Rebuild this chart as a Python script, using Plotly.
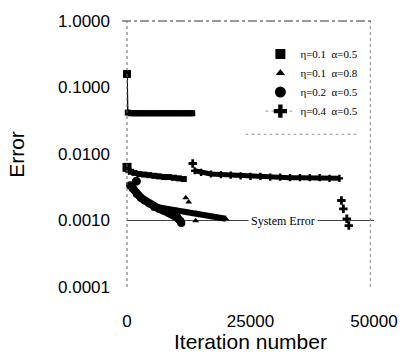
import plotly.graph_objects as go

# ---- data ----
sq_a_x = [0, 150, 800, 1300, 1800, 2300, 2800, 3300, 3800, 4300, 4800, 5300, 5800, 6300, 6800,
          7300, 7800, 8300, 8800, 9300, 9800, 10300, 10800, 11300, 11800, 12300, 12800, 13200]
sq_a_y = [0.16, 0.042, 0.041, 0.041, 0.041, 0.041, 0.041, 0.041, 0.041, 0.041, 0.041, 0.041, 0.041, 0.041, 0.041,
          0.041, 0.041, 0.041, 0.041, 0.041, 0.041, 0.041, 0.041, 0.041, 0.041, 0.041, 0.041, 0.041]

sq_b_x = [0, 300, 800, 1500, 2500, 3500, 4500, 5500, 6500, 7500, 8500, 9500, 10500, 11500]
sq_b_y = [0.0063, 0.0057, 0.0054, 0.0052, 0.0050, 0.0049, 0.0048, 0.0047, 0.0046, 0.0045,
          0.0045, 0.0044, 0.0043, 0.0042]

ci_x = [1900, 600, 1200, 2000, 2800, 3600, 4500, 5500, 6500, 7500, 8500, 9500, 10200, 10800, 11000]
ci_y = [0.0039, 0.0034, 0.0030, 0.0025, 0.0022, 0.0020, 0.0018, 0.0016, 0.0015, 0.0014, 0.0013,
        0.0012, 0.0011, 0.00098, 0.00092]

tr_x = [4500, 6000, 8000, 10000, 12000, 14000, 16000, 18000, 20000]
tr_y = [0.0018, 0.0016, 0.0015, 0.00142, 0.00135, 0.00128, 0.0012, 0.00113, 0.00106]
tr_extra_x = [11900, 12500, 13900]
tr_extra_y = [0.0022, 0.0019, 0.00099]

pl_x = [13700, 15000, 17000, 19000, 21000, 23000, 25000, 27000, 29000, 31000, 33000,
        35000, 37000, 39000, 41000, 43000]
pl_y = [0.0056, 0.0053, 0.0050, 0.0049, 0.0048, 0.0047, 0.0046, 0.0046, 0.0045, 0.0045,
        0.0044, 0.0044, 0.0044, 0.0044, 0.0043, 0.0043]
pl_extra_x = [13300, 43400, 43800, 44500, 44900]
pl_extra_y = [0.0072, 0.0020, 0.0015, 0.00106, 0.00084]

system_error = 0.001
x_ticks = [0, 25000, 50000]
y_ticks = [0.0001, 0.001, 0.01, 0.1, 1.0]
y_tick_text = ["0.0001", "0.0010", "0.0100", "0.1000", "1.0000"]

legend_names = ["η=0.1  α=0.5", "η=0.1  α=0.8", "η=0.2  α=0.5", "η=0.4  α=0.5"]

fig = go.Figure()
K = "black"

def band(x, y, sym, w=5, ms=6):
    fig.add_trace(go.Scatter(x=x, y=y, mode="lines+markers", showlegend=False,
                             line=dict(color=K, width=w),
                             marker=dict(symbol=sym, size=ms, color=K), cliponaxis=False))

def pts(x, y, sym, size):
    fig.add_trace(go.Scatter(x=x, y=y, mode="markers", showlegend=False,
                             marker=dict(symbol=sym, size=size, color=K), cliponaxis=False))

# system error line
fig.add_trace(go.Scatter(x=[0, 50000], y=[system_error, system_error], mode="lines",
                         showlegend=False, line=dict(color="#444", width=1)))

fig.add_trace(go.Scatter(x=sq_a_x[:2], y=sq_a_y[:2], mode="lines", showlegend=False,
                         line=dict(color=K, width=1.5), cliponaxis=False))
band(sq_a_x[1:], sq_a_y[1:], "square", 5, 6)
pts(sq_a_x[:1], sq_a_y[:1], "square", 8)
band(sq_b_x, sq_b_y, "square", 5, 6)
pts(sq_b_x[:1], sq_b_y[:1], "square", 9)
band(ci_x[1:], ci_y[1:], "circle", 8, 8)
pts(ci_x[:1], ci_y[:1], "circle", 9)
band(tr_x, tr_y, "triangle-up", 6, 6)
pts(tr_extra_x, tr_extra_y, "triangle-up", 6)
band(pl_x, pl_y, "cross", 5, 6)
pts(pl_extra_x, pl_extra_y, "cross", 7)

# legend entries
leg_syms = ["square", "triangle-up", "circle", "cross"]
leg_sizes = [10, 8, 11, 11]
for i, (nm, sy, sz) in enumerate(zip(legend_names, leg_syms, leg_sizes)):
    fig.add_trace(go.Scatter(x=[None], y=[None], name=nm,
                             mode="lines+markers" if sy == "cross" else "markers",
                             line=dict(color="#999", width=1, dash="dot"),
                             marker=dict(symbol=sy, size=sz, color=K)))

fig.add_annotation(x=31600, y=-3, text="System Error", showarrow=False, bgcolor="white",
                   font=dict(family="Liberation Serif", size=12, color=K), borderpad=2)

fig.add_annotation(xref="paper", yref="paper", x=0.5, y=-0.155, yanchor="top",
                   text="Iteration number", showarrow=False,
                   font=dict(family="Liberation Sans", size=21, color=K))
fig.add_annotation(xref="paper", yref="paper", x=-0.45, y=0.5, xanchor="center",
                   textangle=-90, text="Error", showarrow=False,
                   font=dict(family="Liberation Sans", size=21, color=K))

shapes = [
    dict(type="line", xref="paper", yref="paper", x0=-0.02, x1=1.0, y0=1, y1=1,
         line=dict(color="#333", width=1, dash="dashdot")),
    dict(type="line", xref="paper", yref="paper", x0=0, x1=0, y0=0, y1=1,
         line=dict(color="#666", width=1, dash="dot")),
    dict(type="line", xref="paper", yref="paper", x0=0.985, x1=0.985, y0=0, y1=1,
         line=dict(color="#888", width=1, dash="dot")),
    dict(type="line", xref="paper", yref="paper", x0=0.48, x1=0.93, y0=0.574, y1=0.574,
         line=dict(color="#999", width=1, dash="dot")),
]

fig.update_layout(
    width=410, height=356, margin=dict(l=127, r=27, t=18, b=69),
    paper_bgcolor="white", plot_bgcolor="white", shapes=shapes,
    showlegend=True,
    legend=dict(x=0.54, y=0.93, xanchor="left", yanchor="top", bgcolor="rgba(0,0,0,0)",
                font=dict(family="Liberation Serif", size=11, color=K), itemwidth=30,
                tracegroupgap=0),
    xaxis=dict(range=[0, 50000], tickvals=x_ticks, ticktext=[str(v) for v in x_ticks],
               showgrid=False, zeroline=False, showline=False, ticks="",
               ticklabelstandoff=22,
               tickfont=dict(family="Liberation Sans", size=17, color=K)),
    yaxis=dict(type="log", range=[-4, 0], tickvals=y_ticks, ticktext=y_tick_text,
               showgrid=False, zeroline=False, showline=False, ticks="",
               ticklabelstandoff=16,
               tickfont=dict(family="Liberation Sans", size=17, color=K)),
)

fig.write_html("out.html")
